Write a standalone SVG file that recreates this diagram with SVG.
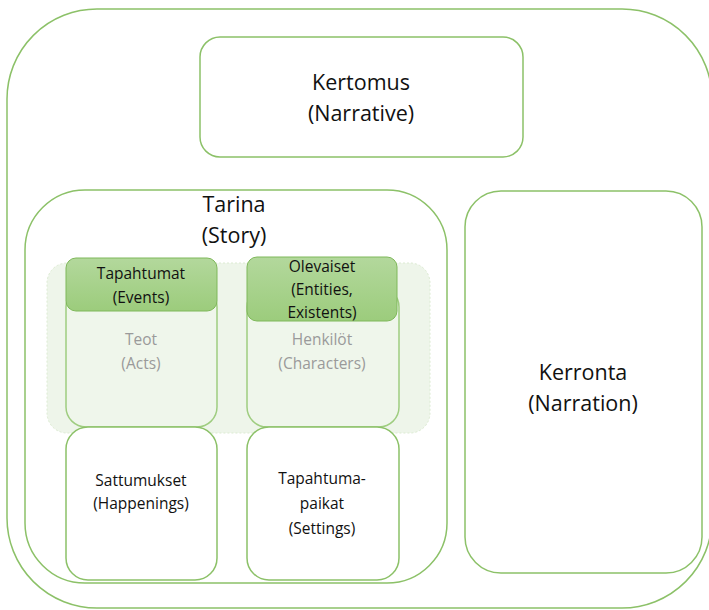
<svg xmlns="http://www.w3.org/2000/svg" width="709" height="610" viewBox="0 0 709 610">
<style>
.box{fill:#ffffff;stroke:#8cc168;stroke-width:1.5}
.inner{fill:#eff6eb;stroke:#9fcd80;stroke-width:1.5}
.head{fill:url(#hg);stroke:#7fb85a;stroke-width:1}
.t{font-family:"Open Sans","Noto Sans",sans-serif;text-anchor:middle;fill:#111}
.big{font-size:21.5px}
.sm{font-size:15.5px}
.grey{fill:#9a9a9a}
</style>
<defs>
<linearGradient id="hg" x1="0" y1="0" x2="0" y2="1">
<stop offset="0" stop-color="#b3d89c"/>
<stop offset="1" stop-color="#9ccc7c"/>
</linearGradient>
</defs>
<g id="outer"><rect class="box" x="7" y="9" width="705" height="599" rx="90"/></g>
<g id="kertomus"><rect class="box" x="200" y="37" width="323" height="120" rx="20"/>
<text class="t big" x="361" y="90">Kertomus</text><text class="t big" x="361" y="121">(Narrative)</text></g>
<g id="tarina"><rect class="box" x="25" y="190" width="422" height="393" rx="60"/>
<text class="t big" x="234" y="212">Tarina</text><text class="t big" x="234" y="243">(Story)</text></g>
<g id="kerronta"><rect class="box" x="465" y="191" width="237" height="382" rx="36"/>
<text class="t big" x="583" y="380">Kerronta</text><text class="t big" x="583" y="411">(Narration)</text></g>
<g id="band"><rect x="47" y="263" width="383" height="170" rx="20" fill="#eef5ea" stroke="#dcebd2" stroke-width="1" stroke-dasharray="2 2"/></g>
<g id="teot"><rect class="inner" x="66" y="287" width="151" height="140" rx="20"/>
<text class="t sm grey" x="141" y="345">Teot</text><text class="t sm grey" x="141" y="369">(Acts)</text></g>
<g id="henkilot"><rect class="inner" x="247" y="287" width="152" height="140" rx="20"/>
<text class="t sm grey" x="322" y="345">Henkilöt</text><text class="t sm grey" x="322" y="369">(Characters)</text></g>
<g id="tapahtumat"><rect class="head" x="66" y="258" width="151" height="53" rx="10"/>
<text class="t sm" x="141" y="279">Tapahtumat</text><text class="t sm" x="141" y="303">(Events)</text></g>
<g id="olevaiset"><rect class="head" x="247" y="257" width="150" height="64" rx="10"/>
<text class="t sm" x="322" y="272">Olevaiset</text><text class="t sm" x="322" y="295">(Entities,</text><text class="t sm" x="322" y="318">Existents)</text></g>
<g id="sattumukset"><rect class="box" x="66" y="427" width="151" height="153" rx="22"/>
<text class="t sm" x="141" y="486">Sattumukset</text><text class="t sm" x="141" y="509">(Happenings)</text></g>
<g id="tapahtumapaikat"><rect class="box" x="247" y="427" width="152" height="153" rx="22"/>
<text class="t sm" x="322" y="484">Tapahtuma-</text><text class="t sm" x="322" y="509">paikat</text><text class="t sm" x="322" y="534">(Settings)</text></g>
<g id="connectors"></g>
</svg>
